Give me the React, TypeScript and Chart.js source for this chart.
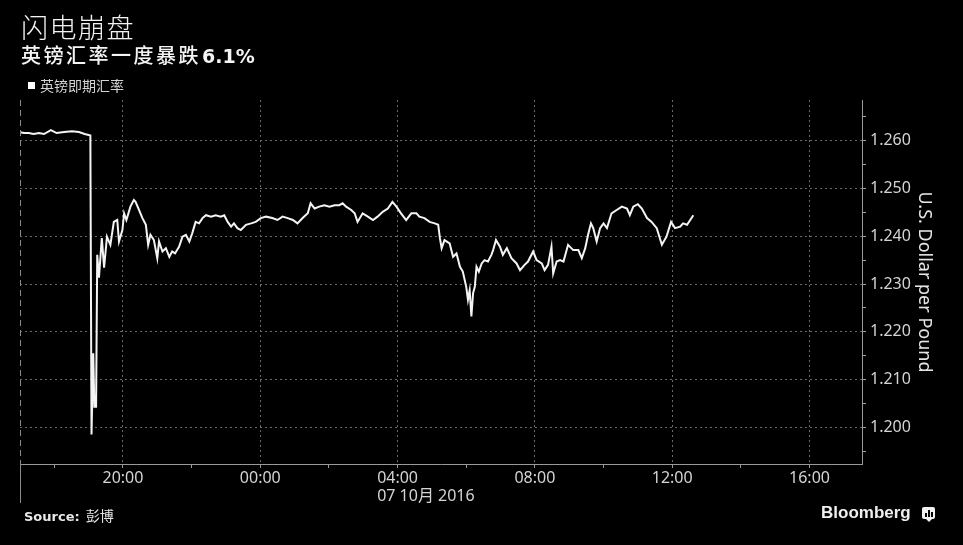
import React, { useEffect, useRef } from "react";
import { Chart, registerables } from "chart.js";

Chart.register(...registerables);

// ---- data (Hong Kong time, 06 -> 07 Oct 2016) ----
const times: string[] = [
  "17:00","17:07","17:15","17:24","17:33","17:42","17:54","18:04","18:17","18:31","18:43","18:53","19:00","19:03",
  "19:05","19:08","19:10","19:13","19:15","19:18","19:23","19:27","19:32","19:38","19:44","19:50","19:53","19:59",
  "20:02","20:06","20:13","20:19","20:22","20:28","20:34","20:40","20:44","20:48","20:54","21:00","21:03","21:09",
  "21:15","21:21","21:26","21:31","21:38","21:44","21:50","21:56","22:01","22:07","22:13","22:19","22:25","22:34",
  "22:42","22:51","22:57","23:03","23:09","23:14","23:20","23:26","23:35","23:44","23:52","00:01","00:10","00:21",
  "00:30","00:39","00:48","00:57","01:05","01:14","01:23","01:28","01:35","01:43","01:52","02:01","02:10","02:18",
  "02:24","02:30","02:39","02:45","02:50","02:59","03:08","03:17","03:25","03:34","03:43","03:51","03:58","04:06",
  "04:15","04:24","04:33","04:38","04:47","04:56","05:05","05:11","05:14","05:17","05:22","05:31","05:37","05:43",
  "05:49","05:54","06:00","06:03","06:06","06:09","06:12","06:15","06:18","06:22","06:27","06:32","06:38","06:44",
  "06:47","06:52","06:59","07:04","07:11","07:19","07:28","07:34","07:42","07:48","07:57","08:03","08:12","08:17",
  "08:23","08:29","08:32","08:38","08:44","08:50","08:58","09:07","09:16","09:22","09:28","09:33","09:38","09:42",
  "09:48","09:54","10:00","10:06","10:14","10:23","10:32","10:41","10:46","10:52","11:00","11:07","11:16","11:24",
  "11:33","11:42","11:50","11:58","12:05","12:14","12:19","12:26","12:37"
];

const gbpusd: number[] = [
  1.2618,1.2616,1.2616,1.2614,1.2616,1.2614,1.2622,1.2616,1.2618,1.2620,1.2618,1.2614,1.2612,1.2611,
  1.1985,1.2155,1.2043,1.2043,1.2361,1.2313,1.2396,1.2334,1.2399,1.2382,1.2430,1.2434,1.2389,1.2413,
  1.2448,1.2434,1.2462,1.2476,1.2472,1.2455,1.2438,1.2424,1.2382,1.2403,1.2392,1.2354,1.2389,1.2368,
  1.2375,1.2357,1.2368,1.2364,1.2378,1.2399,1.2403,1.2389,1.2406,1.2430,1.2427,1.2438,1.2444,1.2441,
  1.2444,1.2441,1.2444,1.2430,1.2420,1.2427,1.2417,1.2413,1.2424,1.2427,1.2430,1.2438,1.2441,1.2438,
  1.2434,1.2441,1.2438,1.2434,1.2427,1.2438,1.2448,1.2469,1.2458,1.2462,1.2465,1.2462,1.2465,1.2465,
  1.2469,1.2462,1.2455,1.2448,1.2430,1.2448,1.2441,1.2434,1.2441,1.2451,1.2458,1.2472,1.2462,1.2448,
  1.2434,1.2448,1.2448,1.2441,1.2438,1.2430,1.2427,1.2424,1.2396,1.2375,1.2392,1.2385,1.2357,1.2364,
  1.2336,1.2326,1.2294,1.2267,1.2287,1.2232,1.2281,1.2294,1.2336,1.2326,1.2343,1.2350,1.2347,1.2361,
  1.2371,1.2392,1.2378,1.2361,1.2375,1.2354,1.2343,1.2329,1.2340,1.2347,1.2368,1.2350,1.2343,1.2329,
  1.2340,1.2378,1.2322,1.2347,1.2350,1.2347,1.2382,1.2371,1.2371,1.2354,1.2375,1.2403,1.2427,1.2417,
  1.2389,1.2417,1.2427,1.2417,1.2448,1.2455,1.2462,1.2458,1.2444,1.2462,1.2467,1.2458,1.2438,1.2430,
  1.2417,1.2382,1.2399,1.2430,1.2417,1.2420,1.2427,1.2424,1.2444
];

const yTickLabels: string[] = ["1.200", "1.210", "1.220", "1.230", "1.240", "1.250", "1.260"];
const xTickLabels: string[] = ["20:00", "00:00", "04:00", "08:00", "12:00", "16:00"];
const dateTick = "04:00";
const dateLabel = "07 10月 2016";
const title = "闪电崩盘";
const subtitleCn = "英镑汇率一度暴跌";
const subtitleNum = "6.1%";
const seriesName = "英镑即期汇率";
const yTitle = "U.S. Dollar per Pound";
const sourceText = "Source:";
const sourceName = "彭博";

// hours since 06 Oct 00:00, handling the day roll-over
function toHours(list: string[]): number[] {
  const out: number[] = [];
  let day = 0;
  let prev = -1;
  for (const t of list) {
    const [h, m] = t.split(":").map(Number);
    let v = h + m / 60;
    if (prev >= 0 && v + day * 24 < prev - 1) day += 1;
    v += day * 24;
    out.push(v);
    prev = v;
  }
  return out;
}

function fmtHour(v: number): string {
  const h = ((Math.round(v) % 24) + 24) % 24;
  return (h < 10 ? "0" : "") + h + ":00";
}

const FONT = "'Noto Sans', 'Noto Sans CJK SC', sans-serif";
const CJK = "'Noto Sans CJK SC', 'Noto Sans', sans-serif";

export default function App() {
  const ref = useRef<HTMLCanvasElement | null>(null);

  useEffect(() => {
    if (!ref.current) return;
    const hours = toHours(times);
    const points = hours.map((x, i) => ({ x, y: gbpusd[i] }));
    const dateHour = 24 + Number(dateTick.split(":")[0]);

    const framePlugin = {
      id: "frame",
      afterDraw(chart: any) {
        const { ctx, chartArea } = chart;
        const xs = chart.scales.x;
        ctx.save();
        ctx.strokeStyle = "#8a8a8a";
        ctx.lineWidth = 1;
        const lx = Math.round(chartArea.left) + 0.5;
        ctx.setLineDash([6, 4]);
        ctx.beginPath();
        ctx.moveTo(lx, chartArea.top);
        ctx.lineTo(lx, chartArea.bottom);
        ctx.stroke();
        ctx.setLineDash([]);
        ctx.beginPath();
        ctx.moveTo(lx, chartArea.bottom);
        ctx.lineTo(lx, chartArea.bottom + 39);
        ctx.stroke();
        // date under the day tick
        ctx.font = `16px ${FONT}`;
        ctx.fillStyle = "#d4d4d4";
        ctx.textAlign = "left";
        ctx.textBaseline = "alphabetic";
        const w = ctx.measureText(dateTick).width;
        ctx.fillText(dateLabel, xs.getPixelForValue(dateHour) - w / 2, chartArea.bottom + 37);
        ctx.restore();
      },
    };

    const chart = new Chart(ref.current, {
      type: "line",
      data: {
        datasets: [
          {
            label: seriesName,
            data: points,
            borderColor: "#f4f4f4",
            borderWidth: 2,
            pointRadius: 0,
            tension: 0,
            fill: false,
          },
        ],
      },
      options: {
        responsive: false,
        animation: false,
        events: [],
        layout: { padding: { left: 20, top: 100, right: 0, bottom: 0 } },
        plugins: {
          legend: { display: false },
          tooltip: { enabled: false },
        },
        scales: {
          x: {
            type: "linear",
            min: 17,
            max: 41.53,
            afterFit: (s: any) => {
              s.height = 81;
            },
            ticks: {
              stepSize: 2,
              includeBounds: false,
              autoSkip: false,
              maxRotation: 0,
              color: "#d4d4d4",
              padding: 1,
              font: { family: FONT, size: 16 },
              callback: (v: any) => {
                const s = fmtHour(Number(v));
                return Number(v) % 4 === 0 && xTickLabels.includes(s) ? s : "";
              },
            },
            grid: {
              color: (c: any) => (c.tick && c.tick.value % 4 === 0 ? "#6a6a6a" : "rgba(0,0,0,0)"),
              tickColor: "#9a9a9a",
              tickLength: 4,
              lineWidth: 1,
            },
            border: { display: true, color: "#9a9a9a", width: 1, dash: [2, 3] },
          },
          y: {
            type: "linear",
            position: "right",
            min: 1.19232,
            max: 1.26852,
            afterFit: (s: any) => {
              s.width = 101;
            },
            ticks: {
              stepSize: 0.005,
              includeBounds: false,
              autoSkip: false,
              color: "#d4d4d4",
              padding: 4,
              font: { family: FONT, size: 16 },
              callback: (v: any) => {
                const s = Number(v).toFixed(3);
                return yTickLabels.includes(s) ? s : "";
              },
            },
            grid: {
              color: (c: any) => {
                const s = c.tick ? Number(c.tick.value).toFixed(3) : "";
                return yTickLabels.includes(s) ? "#6a6a6a" : "rgba(0,0,0,0)";
              },
              tickColor: "#9a9a9a",
              tickLength: 4,
              lineWidth: 1,
            },
            border: { display: true, color: "#9a9a9a", width: 1, dash: [2, 3] },
            title: {
              display: true,
              text: yTitle,
              color: "#e6e6e6",
              font: { family: FONT, size: 18 },
              padding: { top: 28, bottom: 0 },
            },
          },
        },
      },
      plugins: [framePlugin],
    } as any);
    return () => chart.destroy();
  }, []);

  return (
    <div
      style={{
        position: "fixed",
        left: 0,
        top: 0,
        width: 963,
        height: 545,
        background: "#000",
        overflow: "hidden",
      }}
    >
      <canvas ref={ref} width={963} height={545} style={{ position: "absolute", left: 0, top: 0 }} />
      <div
        style={{
          position: "absolute",
          left: 21,
          top: 13,
          fontFamily: CJK,
          fontSize: 27,
          lineHeight: "27px",
          letterSpacing: 1.5,
          color: "#f4f4f4",
          fontWeight: 300,
          whiteSpace: "nowrap",
        }}
      >
        {title}
      </div>
      <div
        style={{
          position: "absolute",
          left: 21,
          top: 44,
          fontSize: 20,
          lineHeight: "22px",
          color: "#f4f4f4",
          whiteSpace: "nowrap",
        }}
      >
        <span style={{ fontFamily: CJK, fontWeight: 500, letterSpacing: 2.5 }}>{subtitleCn}</span>
        <span style={{ fontFamily: "'DejaVu Sans', sans-serif", fontWeight: 700, fontSize: 19, marginLeft: 1 }}>
          {subtitleNum}
        </span>
      </div>
      <div
        style={{
          position: "absolute",
          left: 28,
          top: 82,
          width: 7,
          height: 7,
          background: "#ffffff",
        }}
      />
      <div
        style={{
          position: "absolute",
          left: 40,
          top: 77,
          fontFamily: CJK,
          fontSize: 14,
          lineHeight: "16px",
          color: "#d4d4d4",
          whiteSpace: "nowrap",
        }}
      >
        {seriesName}
      </div>
      <div
        style={{
          position: "absolute",
          left: 24,
          top: 507,
          fontSize: 13,
          lineHeight: "16px",
          color: "#e8e8e8",
          whiteSpace: "nowrap",
        }}
      >
        <span style={{ fontFamily: "'DejaVu Sans', sans-serif", fontWeight: 700 }}>{sourceText}</span>
        <span style={{ fontFamily: CJK, fontSize: 14, marginLeft: 6 }}>{sourceName}</span>
      </div>
      <div
        style={{
          position: "absolute",
          left: 821,
          top: 503,
          fontFamily: "'Liberation Sans', Arial, sans-serif",
          fontWeight: 700,
          fontSize: 17,
          lineHeight: "20px",
          color: "#f0f0f0",
          whiteSpace: "nowrap",
        }}
      >
        Bloomberg
      </div>
      <div
        style={{
          position: "absolute",
          left: 922,
          top: 507,
          width: 13,
          height: 12,
          background: "#f0f0f0",
          borderRadius: 2,
        }}
      >
        <div style={{ position: "absolute", left: 3, top: 6, width: 1.5, height: 4, background: "#000" }} />
        <div style={{ position: "absolute", left: 6, top: 3, width: 1.5, height: 7, background: "#000" }} />
        <div style={{ position: "absolute", left: 9, top: 5, width: 1.5, height: 5, background: "#000" }} />
      </div>
      <div
        style={{
          position: "absolute",
          left: 926,
          top: 519,
          width: 0,
          height: 0,
          borderLeft: "3px solid transparent",
          borderRight: "3px solid transparent",
          borderTop: "3px solid #f0f0f0",
        }}
      />
    </div>
  );
}
